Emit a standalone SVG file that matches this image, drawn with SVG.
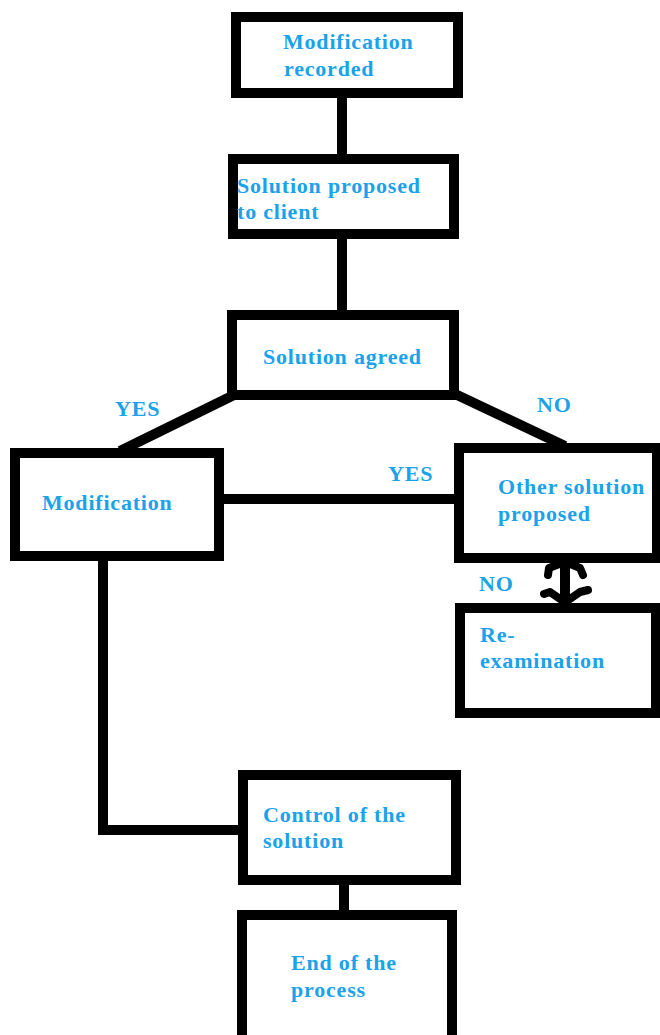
<svg xmlns="http://www.w3.org/2000/svg" width="660" height="1035" viewBox="0 0 660 1035">
  <style>
    .box { fill: #ffffff; stroke: #000000; stroke-width: 10; }
    .link { fill: none; stroke: #000000; stroke-width: 10; }
    .head { fill: none; stroke: #000000; stroke-width: 8; stroke-linecap: round; stroke-linejoin: round; }
    .lbl { font-family: "Liberation Serif", "DejaVu Serif", serif; font-weight: bold; font-size: 22px; letter-spacing: 0.8px; fill: #1aa2ea; }
  </style>
  <rect width="660" height="1035" fill="#ffffff"/>

  <!-- connectors -->
  <g id="connectors">
    <line class="link" x1="342" y1="93" x2="342" y2="159"/>
    <line class="link" x1="342" y1="234" x2="342" y2="315"/>
    <line class="link" x1="236" y1="394" x2="120" y2="451"/>
    <line class="link" x1="455" y1="394" x2="565" y2="446"/>
    <line class="link" x1="219" y1="499" x2="459" y2="499"/>
    <polyline class="link" points="103,556 103,830 243,830"/>
    <line class="link" x1="344" y1="880" x2="344" y2="915"/>
    <!-- double-headed arrow between the two right boxes -->
    <line class="link" x1="565" y1="560" x2="565" y2="605"/>
    <polyline class="head" points="548,575 549,568 562,563"/>
    <polyline class="head" points="583,575 580,568 568,563"/>
    <polyline class="head" points="544,594 550,592 563,601"/>
    <polyline class="head" points="588,590 580,592 567,601"/>
    <text class="lbl" x="115" y="416">YES</text>
    <text class="lbl" x="537" y="412">NO</text>
    <text class="lbl" x="388" y="481">YES</text>
    <text class="lbl" x="479" y="591">NO</text>
  </g>

  <g id="n-recorded">
    <rect class="box" x="236" y="17" width="222" height="76"/>
    <text class="lbl" x="283" y="49">Modification</text>
    <text class="lbl" x="284" y="76">recorded</text>
  </g>

  <g id="n-proposed">
    <rect class="box" x="233" y="159" width="221" height="75"/>
    <text class="lbl" x="237" y="193">Solution proposed</text>
    <text class="lbl" x="237" y="219">to client</text>
  </g>

  <g id="n-agreed">
    <rect class="box" x="232" y="315" width="222" height="80"/>
    <text class="lbl" x="263" y="364">Solution agreed</text>
  </g>

  <g id="n-modification">
    <rect class="box" x="15" y="453" width="204" height="103"/>
    <text class="lbl" x="42" y="510">Modification</text>
  </g>

  <g id="n-other">
    <rect class="box" x="459" y="448" width="198" height="110"/>
    <text class="lbl" x="498" y="494">Other solution</text>
    <text class="lbl" x="498" y="521">proposed</text>
  </g>

  <g id="n-reexam">
    <rect class="box" x="460" y="608" width="196" height="105"/>
    <text class="lbl" x="480" y="642">Re-</text>
    <text class="lbl" x="480" y="668">examination</text>
  </g>

  <g id="n-control">
    <rect class="box" x="243" y="775" width="213" height="105"/>
    <text class="lbl" x="263" y="822">Control of the</text>
    <text class="lbl" x="263" y="848">solution</text>
  </g>

  <g id="n-end">
    <rect class="box" x="242" y="915" width="210" height="130"/>
    <text class="lbl" x="291" y="970">End of the</text>
    <text class="lbl" x="291" y="997">process</text>
  </g>
</svg>
